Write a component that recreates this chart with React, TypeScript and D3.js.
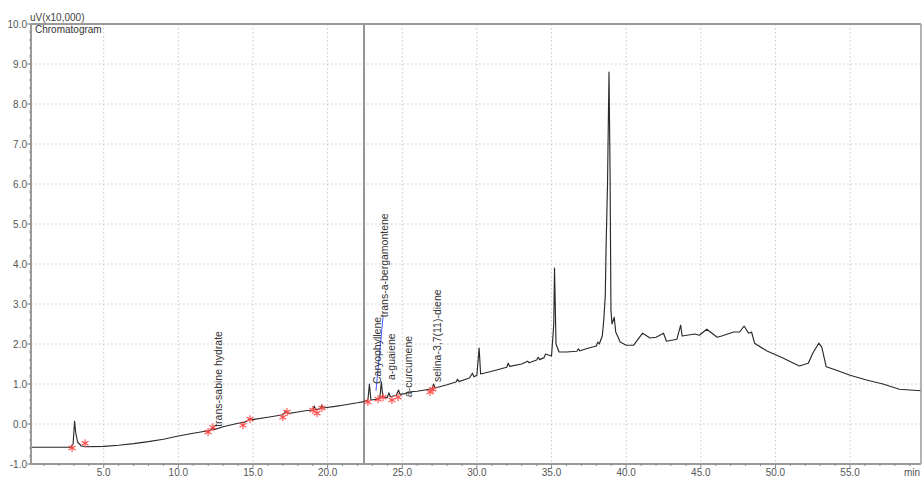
import React from "react";
import * as d3 from "d3";

// Chromatogram trace: retention time (min) and signal (uV x10,000)
const traceTime = [
  0.13, 2.8, 2.95, 3.05, 3.12, 3.25, 3.5, 3.8, 5.0, 6.0, 7.0, 8.0, 9.0, 10.0, 11.0, 12.0, 12.2, 12.3, 12.4,
  13.0, 14.0, 14.4, 14.7, 14.8, 15.0, 16.0, 17.0, 17.2, 17.35, 18.0, 18.5, 19.0, 19.1, 19.2, 19.5, 19.6,
  19.7, 20.5, 21.0, 21.5, 22.0, 22.4, 22.7, 22.8, 22.9, 23.3, 23.5, 23.6, 23.7, 24.0, 24.1, 24.2, 24.6,
  24.75, 24.85, 25.2, 25.4, 26.0, 27.0, 27.1, 27.2, 28.0, 28.6, 28.7, 28.8, 29.5, 29.7, 29.8, 30.0, 30.15,
  30.25, 31.0, 32.0, 32.1, 32.2, 33.0, 33.4, 33.5, 34.0, 34.1, 34.2, 34.5, 34.6, 35.0, 35.15, 35.2, 35.3,
  35.5, 36.0, 36.7, 36.8, 36.9, 37.5, 38.0, 38.1, 38.2, 38.4, 38.5, 38.6, 38.65, 38.75, 38.85, 38.92,
  38.98, 39.05, 39.2, 39.3, 39.6, 40.0, 40.5, 41.1, 41.6, 42.0, 42.5, 42.7, 43.4, 43.65, 43.75, 44.6,
  44.9, 45.4, 46.1, 46.4, 47.2, 47.6, 47.9, 48.2, 48.4, 48.6, 49.4, 50.5, 51.6, 52.2, 52.5, 52.9, 53.1,
  53.4, 53.9, 55.0, 56.1, 57.2, 58.3, 59.75,
];
const traceValue = [
  -0.58, -0.58, -0.5, 0.07, -0.2, -0.45, -0.55, -0.57, -0.56, -0.53, -0.49, -0.44, -0.38, -0.3, -0.23,
  -0.17, -0.15, -0.1, -0.14, -0.07, 0.02, 0.04, 0.1, 0.14, 0.11, 0.17, 0.23, 0.33, 0.26, 0.3, 0.33, 0.35,
  0.45, 0.36, 0.38, 0.47, 0.4, 0.44, 0.47, 0.5, 0.53, 0.56, 0.6, 1.0, 0.6, 0.62, 0.65, 1.05, 0.68, 0.66,
  0.78, 0.68, 0.72, 0.85, 0.74, 0.76, 0.8, 0.82, 0.88, 1.0, 0.9, 0.98, 1.05, 1.12, 1.06, 1.15, 1.27,
  1.18, 1.22, 1.9, 1.25, 1.32, 1.42, 1.52, 1.44, 1.5, 1.57, 1.53, 1.6, 1.67, 1.61, 1.66, 1.75, 1.7, 2.5,
  3.9, 2.0, 1.8, 1.8, 1.82, 1.88, 1.83, 1.9, 1.95, 2.05, 2.0, 2.2, 2.6, 3.2, 4.35, 6.0, 8.8, 6.3, 2.85,
  2.5, 2.67, 2.3, 2.05, 1.97, 1.97, 2.27, 2.15, 2.17, 2.27, 2.07, 2.12, 2.47, 2.2, 2.25, 2.22, 2.37,
  2.17, 2.2, 2.3, 2.3, 2.45, 2.27, 2.3, 2.02, 1.83, 1.65, 1.45, 1.52, 1.77, 2.02, 1.93, 1.43, 1.37,
  1.22, 1.1, 1.0, 0.87, 0.83,
];

// Peak start/end markers (asterisks)
const markerTime = [2.88, 3.75, 11.99, 12.32, 14.33, 14.8, 17.0, 17.28, 19.02, 19.29, 19.62, 22.7, 23.38, 23.71, 24.31, 24.72, 26.86, 27.06];
const markerValue = [-0.6, -0.48, -0.2, -0.08, -0.03, 0.12, 0.17, 0.3, 0.35, 0.27, 0.4, 0.55, 0.62, 0.67, 0.6, 0.67, 0.8, 0.87];

// Peak labels
const labelText = ["trans-sabine hydrate", "Caryophyllene", "trans-a-bergamontene", "a-guaiene", "a-curcumene", "selina-3,7(11)-diene"];
const labelTime = [12.66, 23.31, 23.78, 24.25, 25.39, 27.33];
const labelValue = [-0.07, 1.0, 2.67, 1.1, 0.67, 1.05];
// leader line from peak (only trans-a-bergamontene)
const leaderFromTime = [null, null, 23.24, null, null, null];
const leaderFromValue = [null, null, 0.83, null, null, null];

const cursorTime = 22.44;

const xMajor = [5, 10, 15, 20, 25, 30, 35, 40, 45, 50, 55];
const yMajor = [-1, 0, 1, 2, 3, 4, 5, 6, 7, 8, 9, 10];

const W = 924;
const H = 477;
const FONT = "'Liberation Sans', Arial, sans-serif";

export default function App() {
  const x = d3.scaleLinear().domain([0.13, 59.75]).range([31, 921]);
  const y = d3.scaleLinear().domain([-1, 10]).range([464, 24]);

  const pts: [number, number][] = traceTime.map((t, i) => [t, traceValue[i]]);
  const line = d3
    .line<[number, number]>()
    .x((d) => x(d[0]))
    .y((d) => y(d[1]));

  const xMinor = d3.range(1, 60, 1).filter((v) => v % 5 !== 0);
  const yMinor = d3.range(-1, 10.001, 0.2);

  const [x0, x1] = x.range();
  const [yb, yt] = y.range();

  return (
    <svg
      width={W}
      height={H}
      style={{ position: "absolute", left: 0, top: 0, background: "#fff" }}
      fontFamily={FONT}
    >
      <defs>
        <clipPath id="plot">
          <rect x={x0} y={yt} width={x1 - x0} height={yb - yt} />
        </clipPath>
      </defs>
      {/* grid */}
      {xMajor.map((v) => (
        <line key={"gx" + v} x1={x(v)} x2={x(v)} y1={yt} y2={yb} stroke="#c8c8c8" strokeDasharray="1.5,2.5" />
      ))}
      {yMajor
        .filter((v) => v > -1 && v < 10)
        .map((v) => (
          <line key={"gy" + v} x1={x0} x2={x1} y1={y(v)} y2={y(v)} stroke="#c8c8c8" strokeDasharray="1.5,2.5" />
        ))}

      {/* cursor line */}
      <line x1={x(cursorTime)} x2={x(cursorTime)} y1={yt} y2={yb} stroke="#7a7a7a" strokeWidth={1.6} />

      {/* trace */}
      <path d={line(pts) || ""} fill="none" stroke="#2a2a2a" strokeWidth={1.15} clipPath="url(#plot)" strokeLinejoin="round" />

      {/* markers */}
      {markerTime.map((t, i) => {
        const cx = x(t);
        const cy = y(markerValue[i]);
        const r = 4;
        return (
          <g key={"m" + i} stroke="#ff4a4a" strokeWidth={1.1}>
            {[90, 30, 150].map((a) => {
              const rad = (a * Math.PI) / 180;
              return (
                <line
                  key={a}
                  x1={cx - r * Math.cos(rad)}
                  y1={cy - r * Math.sin(rad)}
                  x2={cx + r * Math.cos(rad)}
                  y2={cy + r * Math.sin(rad)}
                />
              );
            })}
          </g>
        );
      })}

      {/* leader lines */}
      {labelText.map((_, i) =>
        leaderFromTime[i] != null ? (
          <line
            key={"ld" + i}
            x1={x(leaderFromTime[i] as number)}
            y1={y(leaderFromValue[i] as number)}
            x2={x(labelTime[i]) - 1}
            y2={y(labelValue[i])}
            stroke="#4a5cff"
            strokeWidth={1}
          />
        ) : null
      )}

      {/* peak labels */}
      {labelText.map((s, i) => {
        const lx = x(labelTime[i]) + 4;
        const ly = y(labelValue[i]);
        return (
          <text key={"lb" + i} transform={`translate(${lx},${ly}) rotate(-90)`} fontSize={10.5} fill="#333">
            {s}
          </text>
        );
      })}

      {/* frame */}
      <line x1={x0} x2={x1} y1={yt} y2={yt} stroke="#9a9a9a" strokeWidth={2} />
      <line x1={x1} x2={x1} y1={yt} y2={yb} stroke="#9a9a9a" strokeWidth={1.5} />
      <line x1={x0} x2={x1} y1={yb} y2={yb} stroke="#9a9a9a" strokeWidth={2} />
      <line x1={x0} x2={x0} y1={yt} y2={yb} stroke="#9a9a9a" strokeWidth={2} />

      {/* y ticks */}
      {yMinor.map((v, i) => (
        <line key={"ym" + i} x1={x0 - 2} x2={x0} y1={y(v)} y2={y(v)} stroke="#8a8a8a" />
      ))}
      {yMajor.map((v) => (
        <g key={"yt" + v}>
          <line x1={x0 - 4} x2={x0} y1={y(v)} y2={y(v)} stroke="#8a8a8a" />
          <text x={x0 - 4} y={y(v) + 3.5} textAnchor="end" fontSize={10} fill="#555">
            {v.toFixed(1)}
          </text>
        </g>
      ))}

      {/* x ticks */}
      {xMinor.map((v) => (
        <line key={"xm" + v} x1={x(v)} x2={x(v)} y1={yb} y2={yb + 2} stroke="#8a8a8a" />
      ))}
      {xMajor.map((v) => (
        <g key={"xt" + v}>
          <line x1={x(v)} x2={x(v)} y1={yb} y2={yb + 4} stroke="#8a8a8a" />
          <text x={x(v)} y={yb + 12} textAnchor="middle" fontSize={10} fill="#555">
            {v.toFixed(1)}
          </text>
        </g>
      ))}
      <text x={x1 - 1} y={yb + 12} textAnchor="end" fontSize={10} fill="#555">
        min
      </text>

      {/* titles */}
      <text x={x0 - 1} y={yt - 3} fontSize={10} fill="#444">
        uV(x10,000)
      </text>
      <text x={x0 + 4} y={yt + 9} fontSize={10} fill="#333">
        Chromatogram
      </text>
    </svg>
  );
}
